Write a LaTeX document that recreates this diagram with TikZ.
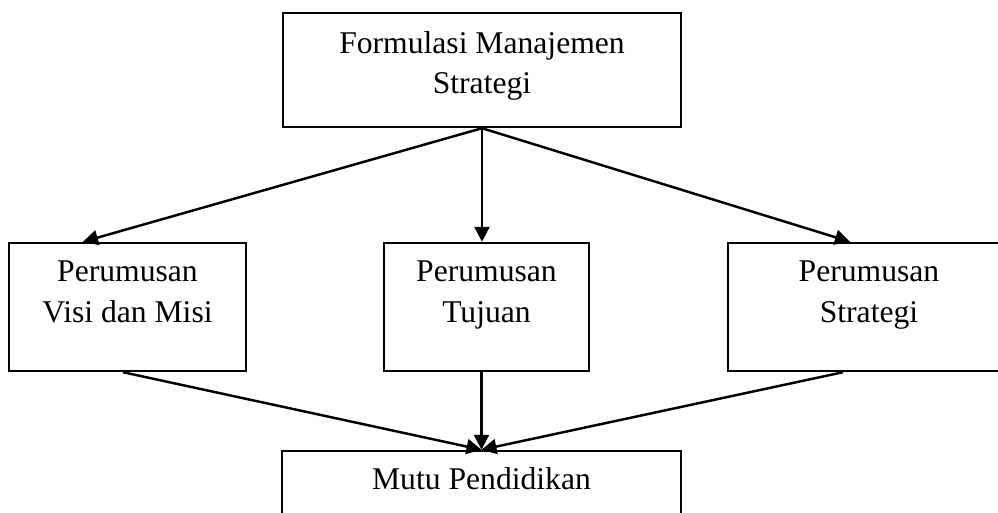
\documentclass[tikz,border=0pt]{standalone}
\usepackage{fontspec}
\setmainfont{Liberation Serif}
\usetikzlibrary{positioning,arrows.meta}
\tikzset{
  kotak/.style={draw, line width=1.4pt, inner sep=0pt},
  teks/.style={inner sep=0pt, align=center, font=\fontsize{18}{23}\selectfont},
  panah/.style={line width=1.4pt, -{Triangle[length=0.3cm,width=0.3cm]}},
  garis/.style={line width=1.4pt}
}
\begin{document}
\begin{tikzpicture}
\path[use as bounding box, clip](0,0) rectangle (19.96,10.26);
% kotak-kotak
\node[kotak, minimum width=7.96cm, minimum height=2.28cm](formulasi) at (9.64,8.86){};
\node[kotak, minimum width=4.74cm, minimum height=2.56cm](visi) at (2.55,4.12){};
\node[kotak, minimum width=4.10cm, minimum height=2.56cm](tujuan) at (9.73,4.12){};
\node[kotak, minimum width=5.64cm, minimum height=2.56cm](strategi) at (17.38,4.12){};
\node[kotak, minimum width=7.98cm, minimum height=2.28cm](mutu) at (9.63,0.10){};
% teks
\node[teks, below=0.38cm of formulasi.north](tformulasi){Formulasi Manajemen\\Strategi};
\node[teks, below=0.38cm of visi.north](tvisi){Perumusan\\Visi dan Misi};
\node[teks, below=0.38cm of tujuan.north](ttujuan){Perumusan\\Tujuan};
\node[teks, below=0.38cm of strategi.north](tstrategi){Perumusan\\Strategi};
\node[teks, below=0.35cm of mutu.north](tmutu){Mutu Pendidikan};
% panah
\draw[panah](formulasi.south)--([xshift=-0.89cm]visi.north);
\draw[panah](formulasi.south)--(formulasi.south |- tujuan.north);
\draw[panah](formulasi.south)--([xshift=-0.38cm]strategi.north);
\draw[panah]([xshift=-0.09cm]visi.south)--(mutu.north);
\draw[panah](mutu.north |- tujuan.south)--(mutu.north);
\draw[panah]([xshift=-0.52cm]strategi.south)--(mutu.north);
\end{tikzpicture}
\end{document}
